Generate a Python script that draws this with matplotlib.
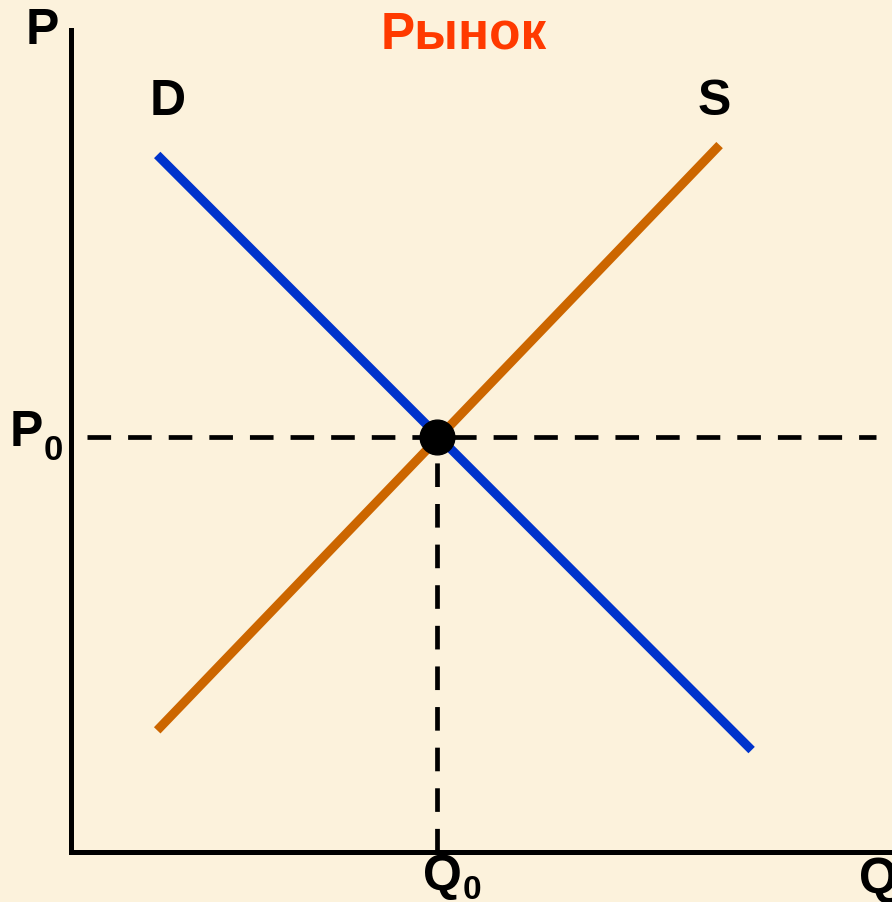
import matplotlib
matplotlib.use("Agg")
import matplotlib.pyplot as plt

# Data (economic units)
demand_q = [1.05, 8.29]
demand_p = [8.48, 1.24]
supply_q = [1.05, 7.90]
supply_p = [1.48, 8.60]
eq_q = 4.46
eq_p = 5.05

title = "Рынок"
bg = "#FCF2DC"
font = "Liberation Sans"

fig = plt.figure(figsize=(8.92, 9.02), dpi=100, facecolor=bg)
ax = fig.add_axes([71/892, 50/902, 821/892, 822/902])
ax.set_facecolor(bg)
ax.set_xlim(0, 10)
ax.set_ylim(0, 10)
ax.set_xticks([])
ax.set_yticks([])
for s in ["top", "right"]:
    ax.spines[s].set_visible(False)
for s in ["left", "bottom"]:
    ax.spines[s].set_linewidth(3.6)
    ax.spines[s].set_color("black")

# dashed guides
ax.plot([0.2, 9.8], [eq_p, eq_p], color="black", lw=3.4, ls=(0, (5, 3.6)), solid_capstyle="butt", zorder=2)
ax.plot([eq_q, eq_q], [0, eq_p], color="black", lw=3.4, ls=(0, (5, 3.6)), solid_capstyle="butt", zorder=2)

ax.plot(demand_q, demand_p, color="#0033CC", lw=6.5, solid_capstyle="butt", zorder=3)
ax.plot(supply_q, supply_p, color="#CC6600", lw=6.5, solid_capstyle="butt", zorder=3)
ax.plot([eq_q], [eq_p], "o", color="black", ms=25, zorder=4)

kw = dict(fontfamily=font, fontweight="bold", ha="center", va="center", clip_on=False)
ax.text(-0.35, 9.99, "P", fontsize=36, color="black", **kw)
ax.text(4.78, 9.94, title, fontsize=37, color="#FF3A00", **kw)
ax.text(1.18, 9.12, "D", fontsize=36, color="black", **kw)
ax.text(7.83, 9.12, "S", fontsize=36, color="black", **kw)
ax.text(-0.54, 5.10, "P", fontsize=36, color="black", **kw)
ax.text(-0.22, 4.88, "0", fontsize=25, color="black", **kw)
ax.text(4.53, -0.30, "Q", fontsize=36, color="black", **kw)
ax.text(4.88, -0.47, "0", fontsize=24, color="black", **kw)
ax.text(9.83, -0.34, "Q", fontsize=36, color="black", **kw)

fig.savefig("out.png", dpi=100, facecolor=bg)
